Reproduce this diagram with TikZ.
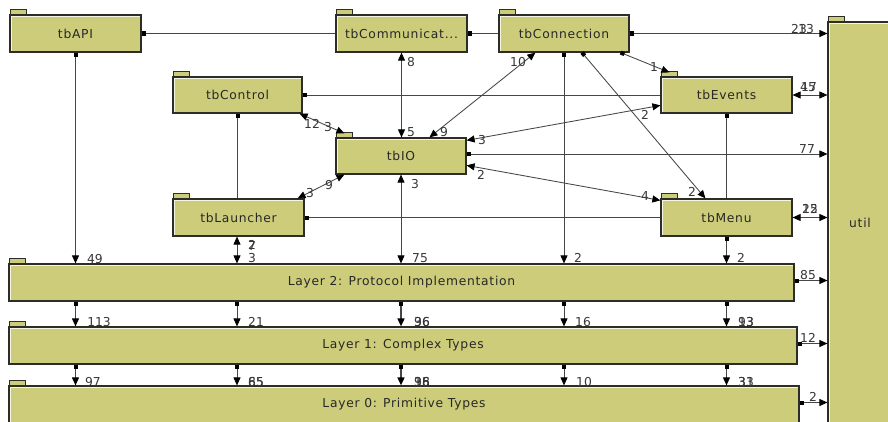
\documentclass[tikz,border=0pt]{standalone}
\usepackage{fontspec}
\usetikzlibrary{arrows.meta,calc}
\newfontfamily\pkgfont[LetterSpace=6]{DejaVu Sans}
\newfontfamily\cntfont{DejaVu Sans}
\definecolor{boxfill}{RGB}{204,204,122}
\definecolor{boxline}{RGB}{45,45,40}
\definecolor{wire}{RGB}{70,70,70}
\definecolor{ink}{RGB}{40,40,40}
\definecolor{numink}{RGB}{55,55,55}

\tikzset{
  sq/.tip={Square[length=4pt,width=4pt,color=black]},
  tri/.tip={Triangle[length=8pt,width=7pt,color=black]},
  pkgbox/.style={draw=boxline, fill=boxfill, line width=1.2pt, inner sep=0pt,
    text=ink, font=\pkgfont\fontsize{12.3}{14}\selectfont},
  hilite/.style={draw=white!80!boxfill, line width=0.9pt},
  tabstyle/.style={draw=boxline, fill=boxfill, line width=0.8pt},
  wireline/.style={draw=wire, line width=0.85pt},
  link/.style={wireline, sq-},
  dep/.style={wireline, sq-tri},
  mutual/.style={wireline, tri-tri},
  num/.style={inner sep=0pt, text=numink, font=\cntfont\fontsize{12.3}{14}\selectfont},
}

% package box: name, centre, width, height, title
\newcommand\pkgnode[5]{%
  \node[pkgbox, minimum width=#3pt, minimum height=#4pt] (#1) at (#2) {#5};
  \draw[hilite] ([shift={(1.6pt,1.6pt)}]#1.south west) |- ([shift={(-1.6pt,-1.6pt)}]#1.north east);
  \draw[tabstyle] ([xshift=1pt]#1.north west) rectangle ([xshift=17pt,yshift=5pt]#1.north west);
}

\begin{document}
\begin{tikzpicture}[x=1pt,y=-1pt]
\useasboundingbox (0,0) rectangle (888,422);
\clip (0,0) rectangle (888,422);
\fill[white] (0,0) rectangle (888,422);

% packages
\pkgnode{api}{75.5,33.5}{131}{37}{tbAPI}
\pkgnode{comm}{401.5,33.5}{131}{37}{tbCommunicat...}
\pkgnode{conn}{564,33.5}{130}{37}{tbConnection}
\pkgnode{ctrl}{237.5,95}{129}{36}{tbControl}
\pkgnode{events}{726.5,95}{131}{36}{tbEvents}
\pkgnode{io}{401,156}{130}{36}{tbIO}
\pkgnode{launch}{238.5,217.5}{131}{37}{tbLauncher}
\pkgnode{menu}{726.5,217.5}{131}{37}{tbMenu}
\pkgnode{util}{860,223}{64}{402}{util}
\pkgnode{ltwo}{401.5,282.5}{785}{37}{Layer 2: Protocol Implementation}
\pkgnode{lone}{403,345.5}{788}{37}{Layer 1: Complex Types}
\pkgnode{lzero}{404,404.5}{790}{37}{Layer 0: Primitive Types}

% top row
\draw[link] (api.east) -- (comm.west);
\draw[link] (comm.east) -- (conn.west);
\draw[dep] (conn.east) -- (conn.east -| util.west);
\node[num] (n1) at (799,29) {23};
\node[num] (n2) at (806,29) {13};

\draw[dep] (api.south) -- (api.south |- ltwo.north);
\node[num] (n3) at (95,259) {49};

\draw[mutual] (comm.south) -- (comm.south |- io.north);
\node[num] (n4) at (411,62) {8};
\node[num] (n5) at (411,132) {5};

\draw[mutual] ([xshift=37pt]conn.south west) -- ([xshift=94pt]io.north west);
\node[num] (n6) at (518,62) {10};
\node[num] (n7) at (444,132) {9};

\draw[dep] (conn.south) -- (conn.south |- ltwo.north);
\node[num] (n8) at (578,258) {2};

\draw[dep] ([xshift=18pt]conn.south) -- ([xshift=45pt]menu.north west);
\node[num] (n9) at (692,192) {2};

\draw[dep] ([xshift=-9pt]conn.south east) -- ([xshift=9pt,yshift=4pt]events.north west);
\node[num] (n10) at (654,67) {1};

% second row
\draw[link] (ctrl.east) -- (events.west);
\draw[mutual] (events.east) -- (events.east -| util.west);
\node[num] (n11) at (808,87) {45};
\node[num] (n12) at (809,87) {17};

\draw[mutual] ([xshift=-3pt]ctrl.south east) -- ([xshift=9pt,yshift=4pt]io.north west);
\node[num] (n13) at (312,124) {12};
\node[num] (n14) at (328,127) {3};

\draw[link] (ctrl.south) -- (ctrl.south |- launch.north);

\draw[mutual] ([yshift=-29pt]events.north west) -- ([yshift=-3pt]io.north east);
\node[num] (n15) at (645,115) {2};
\node[num] (n16) at (482,140) {3};

\draw[link] (events.south) -- (events.south |- menu.north);

% tbIO
\draw[dep] ([yshift=2pt]io.east) -- ([yshift=2pt]io.east -| util.west);
\node[num] (n18) at (807,149) {77};

\draw[mutual] ([yshift=-28pt]io.north east) -- ([yshift=-2pt]menu.north west);
\node[num] (n19) at (481,175) {2};
\node[num] (n20) at (645,196) {4};

\draw[mutual] ([xshift=9pt]io.south west) -- ([xshift=-7pt]launch.north east);
\node[num] (n21) at (329,185) {9};
\node[num] (n22) at (310,193) {3};

\draw[mutual] (io.south) -- (io.south |- ltwo.north);
\node[num] (n23) at (415,184) {3};
\node[num] (n24) at (420,258) {75};

% third row
\draw[mutual] ([xshift=-1.5pt]launch.south) -- ([xshift=-1.5pt]launch.south |- ltwo.north);
\node[num] (n25) at (252,245) {2};
\node[num] (n26) at (252,246) {7};
\node[num] (n27) at (252,258) {3};

\draw[link] (launch.east) -- (menu.west);
\draw[mutual] (menu.east) -- (menu.east -| util.west);
\node[num] (n28) at (810,209) {15};
\node[num] (n29) at (810,209) {22};

\draw[dep] (menu.south) -- (menu.south |- ltwo.north);
\node[num] (n17) at (741,258) {2};

% layers
\draw[dep] ([yshift=2pt]ltwo.east) -- ([yshift=2pt]ltwo.east -| util.west);
\node[num] (n30) at (808,275) {85};

\draw[dep] (api.south |- ltwo.south) -- (api.south |- lone.north);
\draw[dep] ([xshift=-0.5pt]ctrl.south |- ltwo.south) -- ([xshift=-0.5pt]ctrl.south |- lone.north);
\draw[dep, line width=1.6pt] (io.south |- ltwo.south) -- (io.south |- lone.north);
\draw[dep] (conn.south |- ltwo.south) -- (conn.south |- lone.north);
\draw[dep] (events.south |- ltwo.south) -- (events.south |- lone.north);
\node[num] (n31) at (99,322) {113};
\node[num] (n32) at (256,322) {21};
\node[num] (n33) at (422,322) {96};
\node[num] (n34) at (422,322) {36};
\node[num] (n35) at (583,322) {16};
\node[num] (n36) at (746,322) {93};
\node[num] (n37) at (746,322) {13};

\draw[dep] ([yshift=2pt]lone.east) -- ([yshift=2pt]lone.east -| util.west);
\node[num] (n38) at (808,338) {12};

\draw[dep] (api.south |- lone.south) -- (api.south |- lzero.north);
\draw[dep] ([xshift=-0.5pt]ctrl.south |- lone.south) -- ([xshift=-0.5pt]ctrl.south |- lzero.north);
\draw[dep, line width=1.6pt] (io.south |- lone.south) -- (io.south |- lzero.north);
\draw[dep] (conn.south |- lone.south) -- (conn.south |- lzero.north);
\draw[dep] (events.south |- lone.south) -- (events.south |- lzero.north);
\node[num] (n39) at (93,382) {97};
\node[num] (n40) at (256,382) {85};
\node[num] (n41) at (256,382) {65};
\node[num] (n42) at (422,382) {98};
\node[num] (n43) at (422,382) {35};
\node[num] (n44) at (422,382) {16};
\node[num] (n45) at (584,382) {10};
\node[num] (n46) at (746,382) {33};
\node[num] (n47) at (746,382) {31};

\draw[dep] ([yshift=2pt]lzero.east) -- ([yshift=2pt]lzero.east -| util.west);
\node[num] (n48) at (813,397) {2};
\end{tikzpicture}
\end{document}
